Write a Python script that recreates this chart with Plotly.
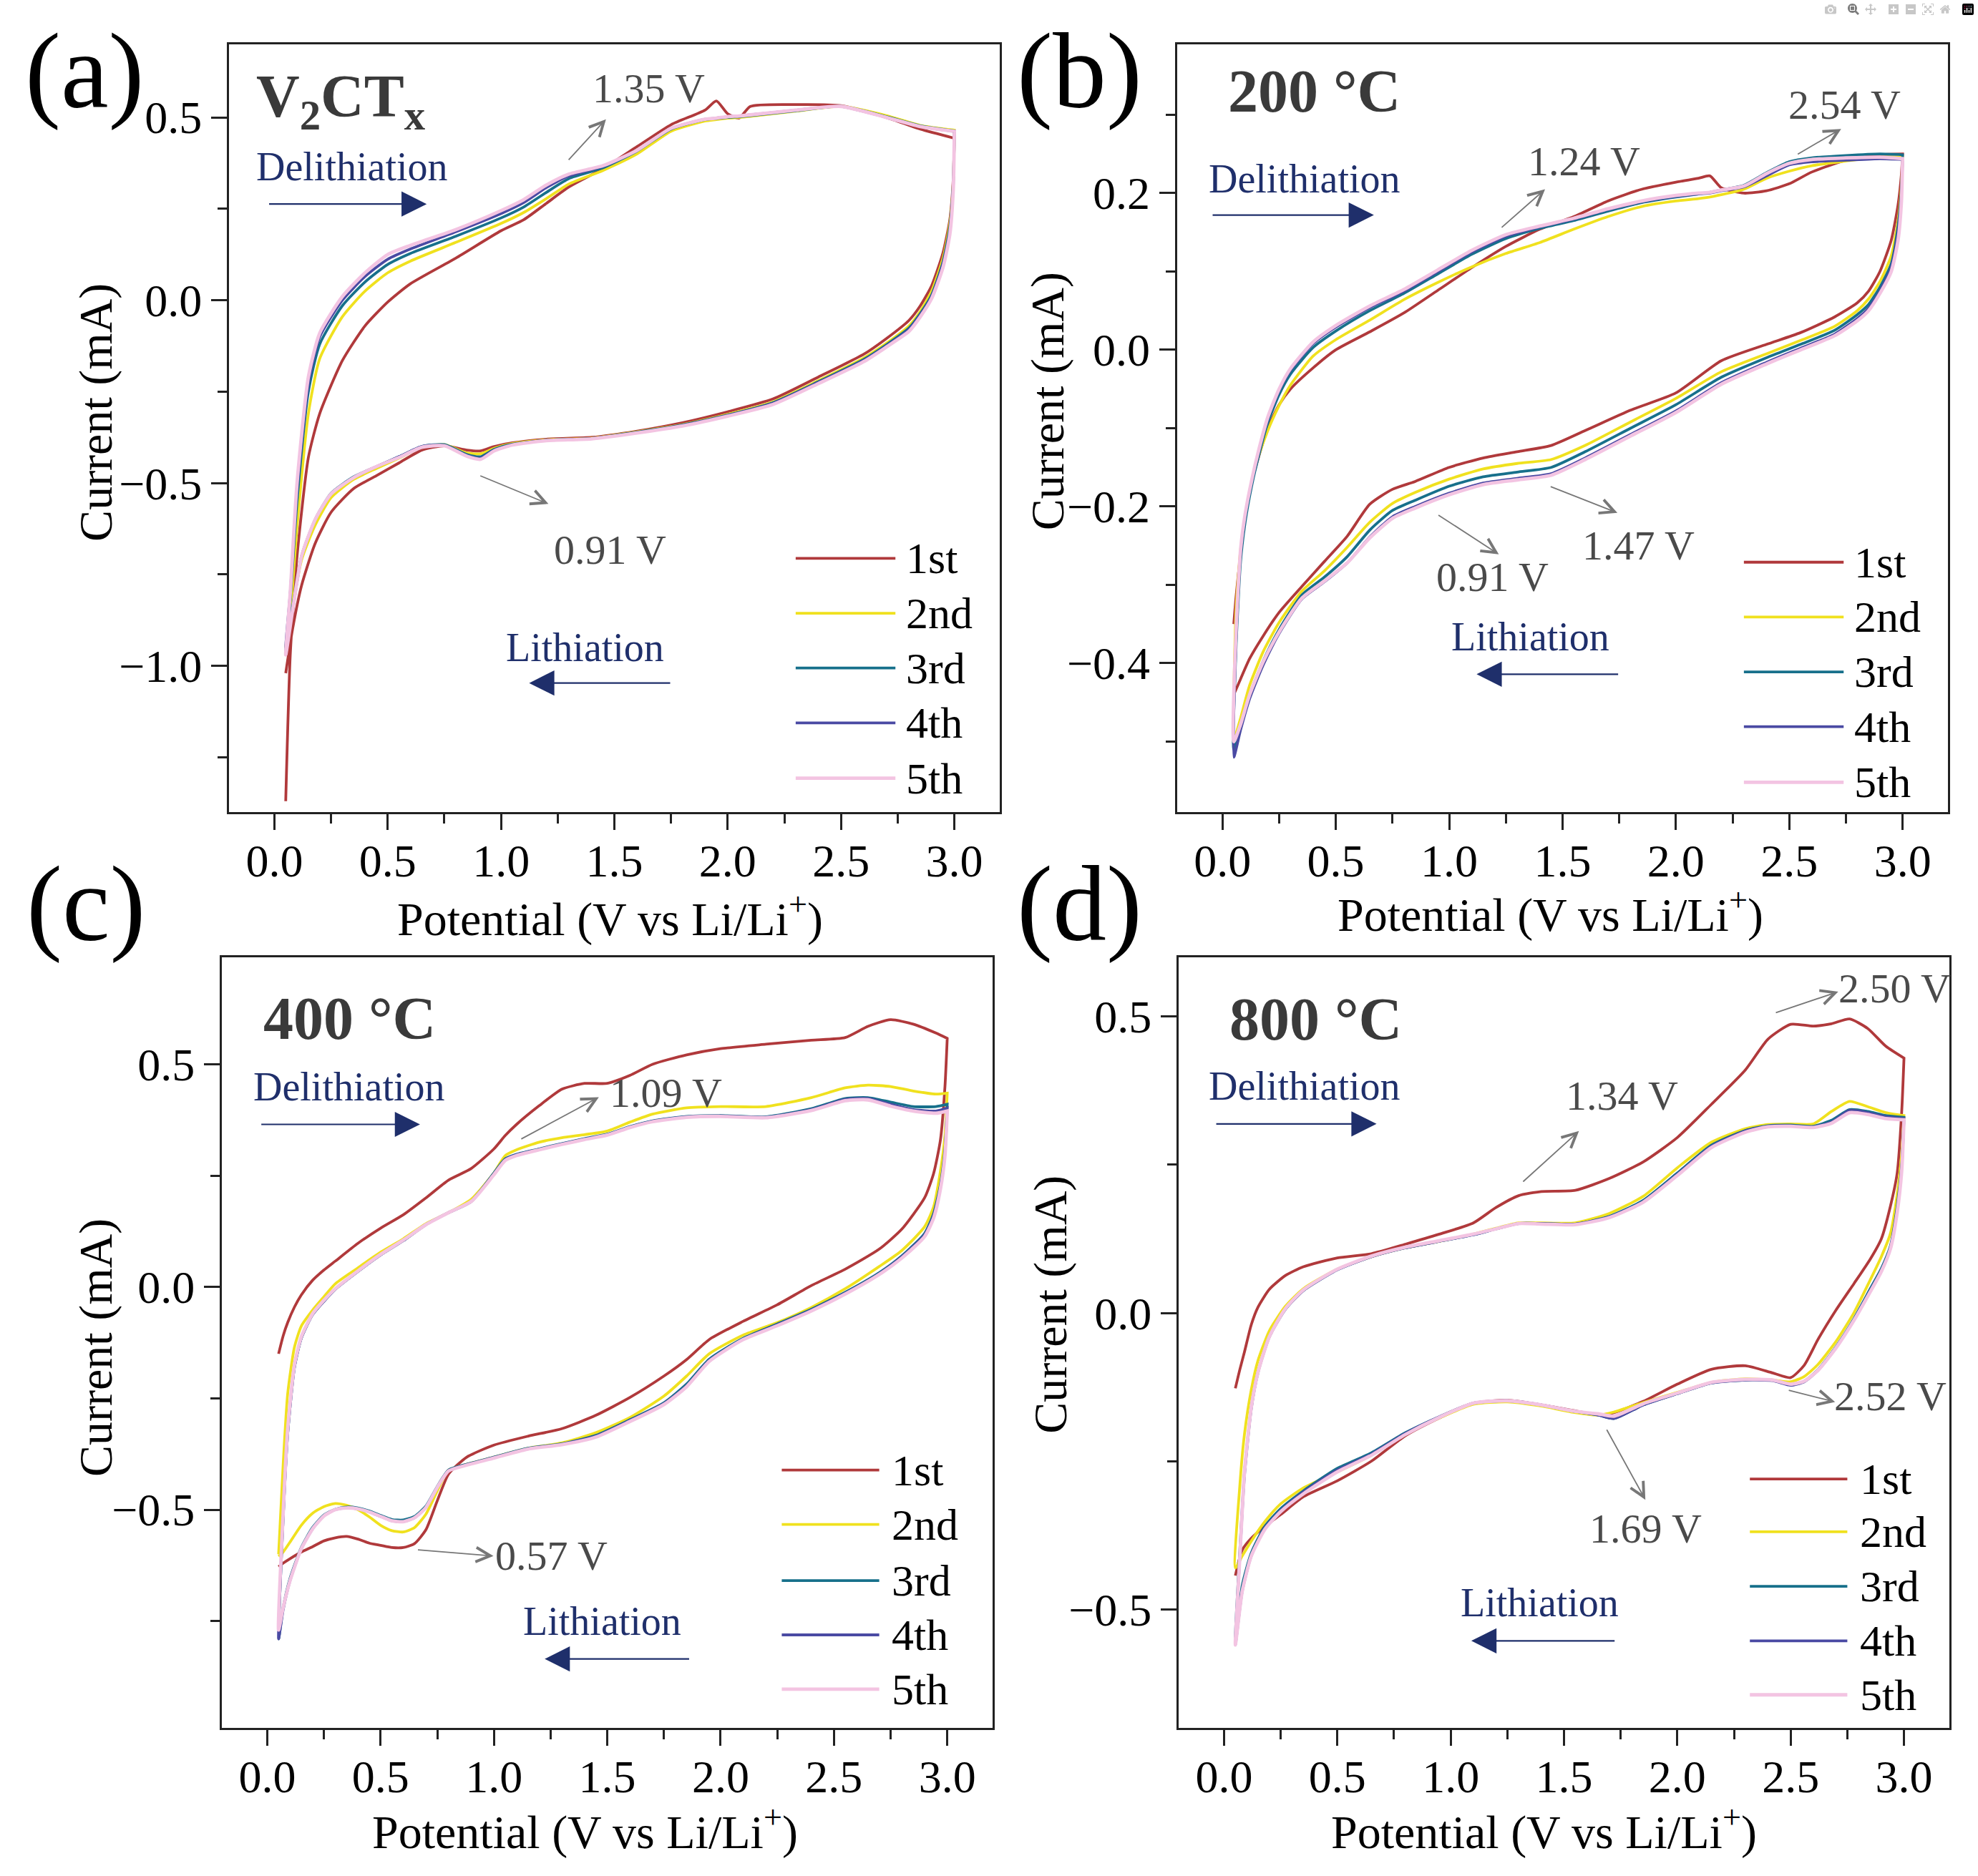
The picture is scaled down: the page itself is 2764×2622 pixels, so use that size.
import plotly.graph_objects as go
from plotly.subplots import make_subplots

# Zyklen und Farben
CYCLES = ["1st", "2nd", "3rd", "4th", "5th"]
COLORS = ["#b0393b", "#f0e11e", "#17708b", "#4a4aa3", "#f3c4e2"]
WIDTHS = [3.8, 3.8, 3.8, 3.8, 4.8]

# (a) V2CTx
A_UP = [0.05, 0.07, 0.1, 0.15, 0.2, 0.3, 0.4, 0.5, 0.6, 0.8, 1.0, 1.1, 1.2, 1.3, 1.45, 1.6, 1.75, 1.9, 1.95, 2.0, 2.05, 2.1, 2.3, 2.5, 2.7, 2.85, 3.0]
A_UP_1 = [-1.37, -0.97, -0.70, -0.43, -0.31, -0.165, -0.07, -0.005, 0.045, 0.115, 0.19, 0.22, 0.265, 0.31, 0.36, 0.42, 0.48, 0.52, 0.545, 0.51, 0.498, 0.53, 0.535, 0.532, 0.50, 0.468, 0.443]
A_UP_2 = [-0.95, -0.86, -0.62, -0.31, -0.16, -0.045, 0.025, 0.075, 0.107, 0.158, 0.21, 0.24, 0.278, 0.318, 0.355, 0.40, 0.462, 0.49, 0.494, 0.498, 0.50, 0.503, 0.517, 0.53, 0.505, 0.478, 0.465]
A_UP_3 = [-0.96, -0.82, -0.55, -0.25, -0.12, -0.015, 0.05, 0.098, 0.128, 0.175, 0.225, 0.255, 0.295, 0.333, 0.362, 0.408, 0.468, 0.494, 0.497, 0.50, 0.502, 0.505, 0.518, 0.53, 0.502, 0.477, 0.463]
A_UP_4 = [-0.95, -0.80, -0.52, -0.23, -0.10, 0.0, 0.065, 0.112, 0.14, 0.187, 0.237, 0.267, 0.308, 0.34, 0.366, 0.41, 0.47, 0.495, 0.498, 0.502, 0.504, 0.507, 0.52, 0.53, 0.50, 0.475, 0.462]
A_UP_5 = [-0.97, -0.80, -0.50, -0.21, -0.09, 0.01, 0.075, 0.125, 0.15, 0.193, 0.245, 0.275, 0.315, 0.345, 0.368, 0.41, 0.47, 0.495, 0.498, 0.502, 0.504, 0.507, 0.52, 0.53, 0.50, 0.475, 0.462]
A_DN = [3.0, 2.995, 2.98, 2.95, 2.9, 2.85, 2.8, 2.7, 2.6, 2.4, 2.2, 2.0, 1.8, 1.6, 1.4, 1.2, 1.05, 0.97, 0.91, 0.85, 0.75, 0.65, 0.55, 0.45, 0.35, 0.25, 0.18, 0.12, 0.08, 0.05]
A_DN_1 = [0.443, 0.33, 0.22, 0.13, 0.04, -0.015, -0.055, -0.105, -0.148, -0.21, -0.27, -0.305, -0.335, -0.358, -0.375, -0.38, -0.39, -0.40, -0.412, -0.41, -0.398, -0.41, -0.445, -0.48, -0.515, -0.58, -0.665, -0.78, -0.9, -1.02]
A_DN_2 = [0.465, 0.32, 0.21, 0.115, 0.025, -0.03, -0.07, -0.118, -0.158, -0.22, -0.278, -0.312, -0.34, -0.36, -0.377, -0.382, -0.392, -0.405, -0.42, -0.418, -0.395, -0.402, -0.432, -0.46, -0.49, -0.54, -0.615, -0.71, -0.84, -0.95]
A_DN_3 = [0.463, 0.32, 0.2, 0.105, 0.015, -0.036, -0.076, -0.122, -0.162, -0.223, -0.28, -0.314, -0.341, -0.361, -0.378, -0.383, -0.394, -0.408, -0.428, -0.422, -0.395, -0.40, -0.428, -0.455, -0.483, -0.528, -0.60, -0.70, -0.84, -0.96]
A_DN_4 = [0.462, 0.31, 0.19, 0.10, 0.01, -0.04, -0.08, -0.125, -0.165, -0.225, -0.282, -0.315, -0.342, -0.362, -0.378, -0.383, -0.395, -0.41, -0.432, -0.425, -0.397, -0.40, -0.428, -0.455, -0.485, -0.53, -0.60, -0.70, -0.85, -0.95]
A_DN_5 = [0.462, 0.30, 0.18, 0.09, 0.005, -0.045, -0.085, -0.128, -0.168, -0.228, -0.285, -0.317, -0.344, -0.363, -0.379, -0.384, -0.396, -0.412, -0.435, -0.427, -0.398, -0.402, -0.43, -0.455, -0.485, -0.53, -0.60, -0.70, -0.85, -0.97]

# (b) 200 °C
B_UP = [0.05, 0.06, 0.08, 0.1, 0.13, 0.16, 0.2, 0.25, 0.3, 0.4, 0.5, 0.65, 0.8, 0.95, 1.1, 1.25, 1.4, 1.55, 1.7, 1.85, 2.0, 2.1, 2.15, 2.2, 2.3, 2.4, 2.5, 2.6, 2.75, 2.9, 3.0]
B_UP_1 = [-0.35, -0.315, -0.26, -0.214, -0.168, -0.136, -0.10, -0.07, -0.05, -0.023, 0.0, 0.023, 0.047, 0.076, 0.105, 0.132, 0.154, 0.17, 0.19, 0.205, 0.214, 0.219, 0.222, 0.207, 0.20, 0.203, 0.212, 0.227, 0.242, 0.249, 0.25]
B_UP_2 = [-0.44, -0.33, -0.255, -0.215, -0.168, -0.135, -0.103, -0.071, -0.045, -0.008, 0.013, 0.038, 0.064, 0.086, 0.106, 0.123, 0.137, 0.154, 0.17, 0.183, 0.19, 0.193, 0.195, 0.198, 0.205, 0.219, 0.228, 0.235, 0.241, 0.246, 0.246]
B_UP_3 = [-0.51, -0.38, -0.27, -0.22, -0.172, -0.135, -0.093, -0.057, -0.031, 0.003, 0.024, 0.05, 0.072, 0.097, 0.122, 0.142, 0.155, 0.165, 0.177, 0.188, 0.195, 0.199, 0.201, 0.204, 0.21, 0.226, 0.24, 0.245, 0.248, 0.25, 0.249]
B_UP_4 = [-0.52, -0.37, -0.26, -0.212, -0.167, -0.13, -0.088, -0.052, -0.026, 0.008, 0.029, 0.054, 0.075, 0.10, 0.125, 0.145, 0.157, 0.167, 0.179, 0.189, 0.196, 0.199, 0.20, 0.203, 0.208, 0.222, 0.236, 0.24, 0.242, 0.244, 0.243]
B_UP_5 = [-0.50, -0.36, -0.255, -0.21, -0.165, -0.128, -0.086, -0.05, -0.024, 0.01, 0.031, 0.056, 0.077, 0.102, 0.127, 0.147, 0.158, 0.168, 0.18, 0.19, 0.197, 0.20, 0.201, 0.204, 0.209, 0.225, 0.238, 0.243, 0.245, 0.246, 0.244]
B_DN = [3.0, 2.995, 2.98, 2.95, 2.9, 2.85, 2.8, 2.7, 2.55, 2.4, 2.2, 2.0, 1.8, 1.6, 1.45, 1.3, 1.15, 1.0, 0.85, 0.75, 0.65, 0.55, 0.45, 0.35, 0.25, 0.18, 0.12, 0.08, 0.05]
B_DN_1 = [0.25, 0.225, 0.185, 0.14, 0.10, 0.075, 0.06, 0.042, 0.022, 0.007, -0.014, -0.055, -0.077, -0.103, -0.122, -0.13, -0.138, -0.15, -0.168, -0.178, -0.197, -0.238, -0.27, -0.302, -0.335, -0.365, -0.394, -0.42, -0.44]
B_DN_2 = [0.246, 0.21, 0.165, 0.12, 0.087, 0.065, 0.05, 0.03, 0.012, -0.005, -0.028, -0.062, -0.092, -0.122, -0.14, -0.145, -0.152, -0.165, -0.182, -0.196, -0.22, -0.252, -0.282, -0.308, -0.348, -0.385, -0.428, -0.47, -0.50]
B_DN_3 = [0.249, 0.205, 0.158, 0.11, 0.08, 0.058, 0.045, 0.025, 0.007, -0.01, -0.035, -0.07, -0.10, -0.13, -0.15, -0.156, -0.162, -0.174, -0.192, -0.205, -0.23, -0.264, -0.29, -0.313, -0.357, -0.397, -0.44, -0.482, -0.51]
B_DN_4 = [0.243, 0.20, 0.15, 0.105, 0.075, 0.053, 0.04, 0.02, 0.002, -0.016, -0.042, -0.078, -0.108, -0.138, -0.158, -0.164, -0.17, -0.183, -0.2, -0.213, -0.239, -0.272, -0.296, -0.318, -0.362, -0.402, -0.445, -0.485, -0.52]
B_DN_5 = [0.244, 0.19, 0.14, 0.10, 0.072, 0.05, 0.037, 0.018, 0.0, -0.018, -0.044, -0.08, -0.11, -0.14, -0.16, -0.166, -0.172, -0.185, -0.202, -0.215, -0.24, -0.272, -0.295, -0.317, -0.36, -0.398, -0.44, -0.478, -0.50]

# (c) 400 °C
C_UP = [0.05, 0.07, 0.09, 0.12, 0.15, 0.2, 0.25, 0.3, 0.4, 0.5, 0.6, 0.7, 0.8, 0.9, 1.0, 1.05, 1.1, 1.2, 1.3, 1.4, 1.5, 1.6, 1.7, 1.85, 2.0, 2.2, 2.4, 2.55, 2.65, 2.75, 2.85, 2.95, 3.0]
C_UP_1 = [-0.15, -0.11, -0.08, -0.045, -0.018, 0.015, 0.038, 0.058, 0.098, 0.132, 0.162, 0.20, 0.24, 0.266, 0.31, 0.34, 0.365, 0.407, 0.444, 0.457, 0.457, 0.475, 0.50, 0.521, 0.535, 0.545, 0.554, 0.56, 0.585, 0.60, 0.59, 0.57, 0.558]
C_UP_2 = [-0.60, -0.40, -0.24, -0.135, -0.088, -0.052, -0.022, 0.007, 0.043, 0.078, 0.108, 0.142, 0.167, 0.197, 0.256, 0.295, 0.308, 0.325, 0.335, 0.342, 0.35, 0.37, 0.388, 0.402, 0.405, 0.405, 0.425, 0.447, 0.453, 0.45, 0.44, 0.433, 0.435]
C_UP_3 = [-0.79, -0.52, -0.33, -0.18, -0.115, -0.062, -0.032, -0.005, 0.035, 0.072, 0.104, 0.14, 0.167, 0.192, 0.256, 0.288, 0.298, 0.31, 0.322, 0.333, 0.343, 0.36, 0.373, 0.383, 0.385, 0.382, 0.40, 0.423, 0.425, 0.415, 0.405, 0.405, 0.41]
C_UP_4 = [-0.79, -0.52, -0.33, -0.18, -0.115, -0.062, -0.032, -0.005, 0.035, 0.072, 0.104, 0.14, 0.167, 0.192, 0.254, 0.286, 0.297, 0.309, 0.321, 0.332, 0.342, 0.359, 0.372, 0.382, 0.384, 0.381, 0.398, 0.421, 0.423, 0.41, 0.398, 0.395, 0.402]
C_UP_5 = [-0.77, -0.51, -0.32, -0.175, -0.112, -0.06, -0.03, -0.004, 0.036, 0.073, 0.105, 0.14, 0.167, 0.192, 0.252, 0.284, 0.295, 0.308, 0.32, 0.331, 0.341, 0.358, 0.371, 0.381, 0.383, 0.38, 0.396, 0.418, 0.42, 0.406, 0.395, 0.39, 0.395]
C_DN = [3.0, 2.99, 2.97, 2.94, 2.9, 2.8, 2.7, 2.55, 2.4, 2.25, 2.1, 1.95, 1.85, 1.75, 1.6, 1.45, 1.3, 1.15, 1.0, 0.88, 0.8, 0.75, 0.7, 0.65, 0.6, 0.55, 0.5, 0.45, 0.4, 0.35, 0.3, 0.25, 0.2, 0.15, 0.1, 0.07, 0.05]
C_DN_1 = [0.558, 0.45, 0.33, 0.255, 0.20, 0.13, 0.085, 0.04, 0.003, -0.04, -0.077, -0.118, -0.163, -0.20, -0.248, -0.288, -0.318, -0.335, -0.355, -0.382, -0.42, -0.48, -0.545, -0.576, -0.585, -0.585, -0.58, -0.575, -0.566, -0.56, -0.563, -0.57, -0.583, -0.595, -0.61, -0.62, -0.628]
C_DN_2 = [0.435, 0.34, 0.26, 0.18, 0.135, 0.082, 0.046, -0.004, -0.046, -0.08, -0.108, -0.15, -0.20, -0.245, -0.293, -0.327, -0.35, -0.362, -0.382, -0.398, -0.411, -0.458, -0.51, -0.54, -0.55, -0.547, -0.535, -0.516, -0.50, -0.49, -0.486, -0.493, -0.508, -0.535, -0.573, -0.595, -0.605]
C_DN_3 = [0.41, 0.31, 0.23, 0.165, 0.12, 0.07, 0.032, -0.012, -0.05, -0.083, -0.115, -0.162, -0.218, -0.26, -0.298, -0.333, -0.352, -0.362, -0.382, -0.398, -0.411, -0.448, -0.492, -0.515, -0.523, -0.522, -0.513, -0.503, -0.496, -0.494, -0.499, -0.512, -0.54, -0.585, -0.655, -0.72, -0.79]
C_DN_4 = [0.402, 0.30, 0.225, 0.16, 0.117, 0.068, 0.03, -0.014, -0.052, -0.085, -0.117, -0.165, -0.222, -0.262, -0.30, -0.335, -0.353, -0.363, -0.383, -0.399, -0.412, -0.45, -0.495, -0.518, -0.527, -0.525, -0.515, -0.505, -0.498, -0.496, -0.50, -0.514, -0.543, -0.588, -0.66, -0.725, -0.79]
C_DN_5 = [0.395, 0.295, 0.22, 0.155, 0.113, 0.065, 0.028, -0.016, -0.054, -0.087, -0.118, -0.167, -0.224, -0.264, -0.302, -0.337, -0.354, -0.364, -0.384, -0.40, -0.413, -0.45, -0.495, -0.518, -0.527, -0.525, -0.515, -0.505, -0.498, -0.496, -0.50, -0.514, -0.543, -0.588, -0.66, -0.72, -0.77]

# (d) 800 °C
D_UP = [0.05, 0.07, 0.09, 0.12, 0.15, 0.2, 0.27, 0.35, 0.5, 0.65, 0.8, 0.95, 1.1, 1.2, 1.3, 1.4, 1.55, 1.7, 1.85, 2.0, 2.15, 2.3, 2.4, 2.5, 2.6, 2.68, 2.76, 2.84, 2.92, 3.0]
D_UP_1 = [-0.127, -0.095, -0.066, -0.02, 0.01, 0.04, 0.063, 0.078, 0.093, 0.10, 0.116, 0.133, 0.152, 0.178, 0.198, 0.205, 0.207, 0.227, 0.255, 0.296, 0.352, 0.41, 0.462, 0.487, 0.484, 0.488, 0.496, 0.48, 0.45, 0.43]
D_UP_2 = [-0.43, -0.29, -0.205, -0.13, -0.08, -0.03, 0.011, 0.041, 0.074, 0.095, 0.11, 0.121, 0.133, 0.143, 0.152, 0.152, 0.152, 0.168, 0.197, 0.245, 0.288, 0.311, 0.318, 0.319, 0.319, 0.34, 0.357, 0.348, 0.338, 0.333]
D_UP_3 = [-0.55, -0.40, -0.27, -0.16, -0.10, -0.04, 0.006, 0.038, 0.073, 0.095, 0.11, 0.121, 0.132, 0.142, 0.151, 0.151, 0.15, 0.163, 0.19, 0.236, 0.283, 0.308, 0.316, 0.317, 0.315, 0.325, 0.343, 0.34, 0.333, 0.33]
D_UP_4 = [-0.56, -0.41, -0.275, -0.162, -0.1, -0.04, 0.006, 0.038, 0.073, 0.095, 0.11, 0.121, 0.132, 0.142, 0.151, 0.151, 0.15, 0.162, 0.188, 0.234, 0.281, 0.307, 0.315, 0.316, 0.314, 0.322, 0.342, 0.338, 0.331, 0.328]
D_UP_5 = [-0.56, -0.41, -0.27, -0.16, -0.1, -0.04, 0.007, 0.039, 0.074, 0.096, 0.111, 0.122, 0.133, 0.142, 0.151, 0.15, 0.149, 0.161, 0.187, 0.232, 0.279, 0.305, 0.314, 0.315, 0.313, 0.32, 0.338, 0.335, 0.328, 0.326]
D_DN = [3.0, 2.99, 2.97, 2.94, 2.9, 2.85, 2.78, 2.7, 2.62, 2.56, 2.5, 2.42, 2.3, 2.15, 2.0, 1.85, 1.72, 1.65, 1.55, 1.4, 1.25, 1.1, 0.95, 0.8, 0.65, 0.5, 0.35, 0.25, 0.18, 0.12, 0.08, 0.05]
D_DN_1 = [0.43, 0.34, 0.236, 0.18, 0.125, 0.09, 0.05, 0.005, -0.045, -0.088, -0.109, -0.101, -0.089, -0.095, -0.12, -0.149, -0.168, -0.172, -0.165, -0.155, -0.147, -0.152, -0.177, -0.207, -0.25, -0.283, -0.31, -0.34, -0.36, -0.38, -0.40, -0.443]
D_DN_2 = [0.333, 0.27, 0.20, 0.134, 0.095, 0.055, 0.001, -0.048, -0.087, -0.107, -0.116, -0.113, -0.111, -0.117, -0.134, -0.151, -0.167, -0.172, -0.168, -0.157, -0.15, -0.154, -0.177, -0.203, -0.24, -0.268, -0.295, -0.322, -0.352, -0.385, -0.41, -0.43]
D_DN_3 = [0.33, 0.25, 0.18, 0.113, 0.075, 0.04, -0.009, -0.057, -0.096, -0.115, -0.121, -0.113, -0.113, -0.118, -0.136, -0.155, -0.178, -0.172, -0.166, -0.155, -0.148, -0.152, -0.175, -0.202, -0.236, -0.262, -0.30, -0.33, -0.36, -0.405, -0.46, -0.55]
D_DN_4 = [0.328, 0.245, 0.175, 0.11, 0.072, 0.037, -0.011, -0.058, -0.097, -0.116, -0.122, -0.114, -0.113, -0.118, -0.136, -0.155, -0.178, -0.172, -0.166, -0.155, -0.148, -0.152, -0.175, -0.203, -0.238, -0.265, -0.302, -0.333, -0.363, -0.41, -0.47, -0.56]
D_DN_5 = [0.326, 0.24, 0.17, 0.108, 0.07, 0.035, -0.012, -0.059, -0.097, -0.115, -0.12, -0.113, -0.112, -0.117, -0.135, -0.153, -0.174, -0.17, -0.166, -0.155, -0.148, -0.152, -0.176, -0.205, -0.24, -0.268, -0.305, -0.335, -0.365, -0.41, -0.47, -0.56]

FONT = "Liberation Serif"
GREY = "#4a4a4a"
NAVY = "#1f2f6b"

panels = [
    dict(up=A_UP, dn=A_DN, ups=[A_UP_1, A_UP_2, A_UP_3, A_UP_4, A_UP_5], dns=[A_DN_1, A_DN_2, A_DN_3, A_DN_4, A_DN_5],
         xdom=[0.1158, 0.5054], ydom=[0.5671, 0.9764], yr=[-1.40, 0.70], dt=0.5, mdt=0.25,
         tag="<b>V<sub>2</sub>CT<sub>x</sub></b>", tagpos=(-0.085, 0.545),
         deli=(-0.085, 0.365, -0.028, 0.672, 0.263), lith=(1.37, -0.95, 1.751, 1.124, -1.047),
         leg=(2.30, 2.74, 2.78, [-0.706, -0.856, -1.006, -1.156, -1.307]),
         notes=[("1.35 V", 1.65, 0.58, 1.294, 0.381, 1.463, 0.495),
                ("0.91 V", 1.48, -0.682, 0.904, -0.479, 1.209, -0.557)],
         letter=("(a)", 0.0427, 0.962), ytit=(0.0485, 0.780), xtit=(0.3086, 0.512)),
    dict(up=B_UP, dn=B_DN, ups=[B_UP_1, B_UP_2, B_UP_3, B_UP_4, B_UP_5], dns=[B_DN_1, B_DN_2, B_DN_3, B_DN_4, B_DN_5],
         xdom=[0.5951, 0.9848], ydom=[0.5671, 0.9764], yr=[-0.59, 0.39], dt=0.2, mdt=0.1,
         tag="<b>200 °C</b>", tagpos=(0.017, 0.33),
         deli=(-0.067, 0.218, -0.048, 0.668, 0.172), lith=(1.359, -0.366, 1.75, 1.121, -0.414),
         leg=(2.30, 2.74, 2.78, [-0.271, -0.341, -0.411, -0.481, -0.552]),
         notes=[("1.24 V", 1.596, 0.241, 1.227, 0.155, 1.423, 0.205),
                ("2.54 V", 2.743, 0.313, 2.533, 0.249, 2.729, 0.282),
                ("1.47 V", 1.834, -0.25, 1.443, -0.174, 1.742, -0.208),
                ("0.91 V", 1.191, -0.29, 0.948, -0.21, 1.219, -0.261)],
         letter=("(b)", 0.5456, 0.962), ytit=(0.5297, 0.786), xtit=(0.7837, 0.514)),
    dict(up=C_UP, dn=C_DN, ups=[C_UP_1, C_UP_2, C_UP_3, C_UP_4, C_UP_5], dns=[C_DN_1, C_DN_2, C_DN_3, C_DN_4, C_DN_5],
         xdom=[0.1122, 0.5018], ydom=[0.0789, 0.4897], yr=[-0.99, 0.74], dt=0.5, mdt=0.25,
         tag="<b>400 °C</b>", tagpos=(-0.023, 0.603),
         deli=(-0.068, 0.449, -0.031, 0.674, 0.365), lith=(1.477, -0.751, 1.866, 1.224, -0.835),
         leg=(2.27, 2.70, 2.75, [-0.411, -0.533, -0.659, -0.781, -0.903]),
         notes=[("1.09 V", 1.759, 0.435, 1.116, 0.331, 1.463, 0.426),
                ("0.57 V", 1.252, -0.604, 0.66, -0.59, 0.998, -0.604)],
         letter=("(c)", 0.0434, 0.518), ytit=(0.0485, 0.2815), xtit=(0.2956, 0.025)),
    dict(up=D_UP, dn=D_DN, ups=[D_UP_1, D_UP_2, D_UP_3, D_UP_4, D_UP_5], dns=[D_DN_1, D_DN_2, D_DN_3, D_DN_4, D_DN_5],
         xdom=[0.5959, 0.9855], ydom=[0.0789, 0.4897], yr=[-0.70, 0.60], dt=0.5, mdt=0.25,
         tag="<b>800 °C</b>", tagpos=(0.017, 0.496),
         deli=(-0.073, 0.383, -0.039, 0.673, 0.319), lith=(1.393, -0.489, 1.728, 1.091, -0.553),
         leg=(2.32, 2.75, 2.80, [-0.28, -0.369, -0.461, -0.553, -0.644]),
         notes=[("1.34 V", 1.756, 0.366, 1.315, 0.22, 1.566, 0.307),
                ("2.50 V", 2.96, 0.547, 2.43, 0.506, 2.71, 0.542),
                ("2.52 V", 2.94, -0.14, 2.487, -0.13, 2.696, -0.15),
                ("1.69 V", 1.859, -0.364, 1.686, -0.195, 1.859, -0.315)],
         letter=("(d)", 0.5456, 0.518), ytit=(0.531, 0.3047), xtit=(0.7804, 0.025)),
]

fig = make_subplots(rows=2, cols=2)
annos = []
shapes = []

for k, p in enumerate(panels):
    row, col = k // 2 + 1, k % 2 + 1
    xr = "x" if k == 0 else "x%d" % (k + 1)
    yr = "y" if k == 0 else "y%d" % (k + 1)

    # ein Trace pro Zyklus: Delithiierung hin, Lithiierung zurueck
    for i in range(5):
        fig.add_trace(go.Scatter(x=p["up"] + p["dn"], y=p["ups"][i] + p["dns"][i], mode="lines",
                                 line=dict(color=COLORS[i], width=WIDTHS[i], shape="spline", smoothing=0.6),
                                 name=CYCLES[i], showlegend=False), row=row, col=col)

    axis = dict(showline=True, linewidth=3, linecolor="#222", mirror=True, ticks="outside", ticklen=22,
                tickwidth=3, tickcolor="#222", showgrid=False, zeroline=False, tickformat=".1f",
                tickfont=dict(family=FONT, size=64, color="black"))
    fig.update_xaxes(axis, domain=p["xdom"], range=[-0.2, 3.2], dtick=0.5, tick0=0, ticklabelstandoff=-12,
                     minor=dict(dtick=0.25, tick0=0, ticks="outside", ticklen=13, tickwidth=3, tickcolor="#222"),
                     row=row, col=col)
    fig.update_yaxes(axis, domain=p["ydom"], range=p["yr"], dtick=p["dt"], tick0=0,
                     minor=dict(dtick=p["mdt"], tick0=0, ticks="outside", ticklen=13, tickwidth=3, tickcolor="#222"),
                     row=row, col=col)

    # Beschriftung im Plot
    annos.append(dict(xref=xr, yref=yr, x=p["tagpos"][0], y=p["tagpos"][1], text=p["tag"], showarrow=False,
                      xanchor="left", yanchor="middle", font=dict(family=FONT, size=84, color="#3a3a3a")))
    dx, dy, ax0, ax1, ay = p["deli"]
    annos.append(dict(xref=xr, yref=yr, x=dx, y=dy, text="Delithiation", showarrow=False, xanchor="left",
                      yanchor="middle", font=dict(family=FONT, size=56, color=NAVY)))
    annos.append(dict(xref=xr, yref=yr, axref=xr, ayref=yr, x=ax1, y=ay, ax=ax0, ay=ay, text="",
                      showarrow=True, arrowhead=2, arrowsize=3.2, arrowwidth=2.2, arrowcolor=NAVY))
    lx, ly, lx0, lx1, lay = p["lith"]
    annos.append(dict(xref=xr, yref=yr, x=lx, y=ly, text="Lithiation", showarrow=False, xanchor="center",
                      yanchor="middle", font=dict(family=FONT, size=56, color=NAVY)))
    annos.append(dict(xref=xr, yref=yr, axref=xr, ayref=yr, x=lx1, y=lay, ax=lx0, ay=lay, text="",
                      showarrow=True, arrowhead=2, arrowsize=3.2, arrowwidth=2.2, arrowcolor=NAVY))
    for txt, tx, ty, x0, y0, x1, y1 in p["notes"]:
        annos.append(dict(xref=xr, yref=yr, x=tx, y=ty, text=txt, showarrow=False, xanchor="center",
                          yanchor="middle", font=dict(family=FONT, size=58, color=GREY)))
        annos.append(dict(xref=xr, yref=yr, axref=xr, ayref=yr, x=x1, y=y1, ax=x0, ay=y0, text="",
                          showarrow=True, arrowhead=5, arrowsize=2.2, arrowwidth=1.8, arrowcolor="#777"))

    # Legende von Hand (lange Linien wie im Original)
    lg0, lg1, lgt, rows_y = p["leg"]
    for i in range(5):
        shapes.append(dict(type="line", xref=xr, yref=yr, x0=lg0, x1=lg1, y0=rows_y[i], y1=rows_y[i],
                           line=dict(color=COLORS[i], width=WIDTHS[i])))
        annos.append(dict(xref=xr, yref=yr, x=lgt, y=rows_y[i], text=CYCLES[i], showarrow=False, xanchor="left",
                          yanchor="middle", font=dict(family=FONT, size=62, color="black")))

    # Achsentitel und Panelbuchstabe
    annos.append(dict(xref="paper", yref="paper", x=p["ytit"][0], y=p["ytit"][1], text="Current (mA)",
                      textangle=-90, showarrow=False, xanchor="center", yanchor="middle",
                      font=dict(family=FONT, size=66, color="black")))
    annos.append(dict(xref="paper", yref="paper", x=p["xtit"][0], y=p["xtit"][1],
                      text="Potential (V vs Li/Li<sup>+</sup>)", showarrow=False, xanchor="center",
                      yanchor="middle", font=dict(family=FONT, size=66, color="black")))
    annos.append(dict(xref="paper", yref="paper", x=p["letter"][1], y=p["letter"][2], text=p["letter"][0],
                      showarrow=False, xanchor="center", yanchor="middle",
                      font=dict(family=FONT, size=150, color="black")))

fig.update_layout(width=2764, height=2622, margin=dict(l=0, r=0, t=0, b=0),
                  paper_bgcolor="white", plot_bgcolor="white", showlegend=False,
                  annotations=annos, shapes=shapes)

fig.write_html("out.html", post_script="document.body.style.margin='0';")
